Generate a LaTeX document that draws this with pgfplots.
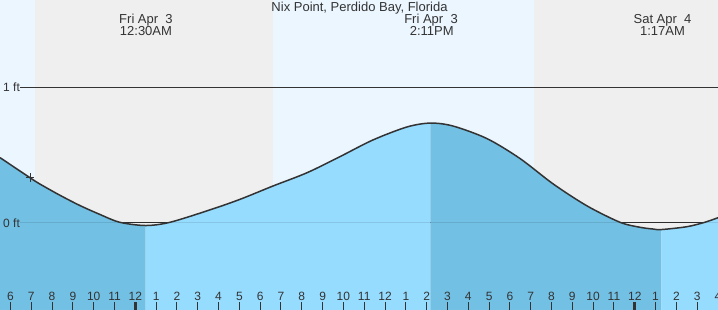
\documentclass[border=0pt]{standalone}
\usepackage{pgfplots}
\pgfplotsset{compat=1.18}
\usepackage{pgfplotstable}
\usepackage{fontspec}
\setmainfont{Liberation Sans}
\definecolor{day}{RGB}{236,246,255}
\definecolor{night}{RGB}{239,239,239}
\definecolor{fall}{RGB}{114,192,228}
\definecolor{rise}{RGB}{150,220,255}
\definecolor{ink}{RGB}{51,51,51}
\pgfplotstableread{
t ft
-6.50 0.479
-5.06 0.330
-4.58 0.283
-3.62 0.200
-2.66 0.124
-1.70 0.058
-0.75 0.000
0.50 -0.024
1.67 0.000
3.59 0.092
5.03 0.170
6.62 0.269
8.25 0.367
9.83 0.486
11.42 0.610
13.05 0.706
14.18 0.735
15.27 0.713
16.90 0.620
18.49 0.472
20.08 0.284
21.71 0.121
23.29 0.000
24.25 -0.037
24.88 -0.050
25.28 -0.054
26.50 -0.033
27.37 0.000
28.00 0.034
}\tide
\begin{document}
\begin{tikzpicture}
\begin{axis}[
  width=718bp, height=310bp, scale only axis,
  xmin=-6.502, xmax=28.0, ymin=-0.650, ymax=1.647,
  axis line style={draw=none},
  axis on top,
  ytick=\empty,
  xtick={-6,...,28},
  xticklabels={6,7,8,9,10,11,12,1,2,3,4,5,6,7,8,9,10,11,12,1,2,3,4,5,6,7,8,9,10,11,12,1,2,3,4},
  tick align=inside,
  xtick pos=left,
  major tick length=8bp,
  tick style={draw=ink, line width=1bp},
  xticklabel style={anchor=base, yshift=10bp, inner sep=0pt, text=ink, font=\fontsize{12bp}{12bp}\selectfont},
  extra x ticks={0,24},
  extra x tick labels={},
  extra x tick style={major tick style={line width=3bp}},
]
% day / night background
\addplot[fill=day, draw=none] coordinates {(-6.6,-0.7) (-6.6,1.7) (28.1,1.7) (28.1,-0.7)} -- cycle;
\addplot[fill=night, draw=none] coordinates {(-4.82,-0.7) (-4.82,1.7) (6.60,1.7) (6.60,-0.7)} -- cycle;
\addplot[fill=night, draw=none] coordinates {(19.16,-0.7) (19.16,1.7) (28.1,1.7) (28.1,-0.7)} -- cycle;
% zero line (below fill)
\addplot[draw=ink, line width=1bp] coordinates {(-5.54,0) (28,0)};
% tide fills
\addplot[fill=fall, draw=none, smooth, restrict x to domain=-7:0.501] table[x=t,y=ft] {\tide} -- (axis cs:0.5,-0.7) -- (axis cs:-6.6,-0.7) -- cycle;
\addplot[fill=rise, draw=none, smooth, restrict x to domain=0.499:14.181] table[x=t,y=ft] {\tide} -- (axis cs:14.18,-0.7) -- (axis cs:0.5,-0.7) -- cycle;
\addplot[fill=fall, draw=none, smooth, restrict x to domain=14.179:25.281] table[x=t,y=ft] {\tide} -- (axis cs:25.28,-0.7) -- (axis cs:14.18,-0.7) -- cycle;
\addplot[fill=rise, draw=none, smooth, restrict x to domain=25.279:29] table[x=t,y=ft] {\tide} -- (axis cs:28.1,-0.7) -- (axis cs:25.28,-0.7) -- cycle;
% zero line over fill
\addplot[draw=black, opacity=0.1, line width=1bp] coordinates {(-5.54,0) (28,0)};
% 1 ft line
\addplot[draw=ink, line width=1bp] coordinates {(-5.54,1) (28,1)};
% tide curve
\addplot[draw=ink, line width=1.5bp, smooth] table[x=t,y=ft] {\tide};
% current time marker
\addplot[only marks, mark=+, mark size=4.3bp, mark options={draw=ink, line width=1bp}] coordinates {(-5.06,0.330)};
% texts
\node[anchor=base, text=ink, font=\fontsize{13bp}{12bp}\selectfont, inner sep=0pt] at (rel axis cs:0.5007,0.9645) {Nix Point, Perdido Bay, Florida};
\node[anchor=base, text=ink, font=\fontsize{13bp}{12bp}\selectfont, inner sep=0pt] at (rel axis cs:0.2033,0.9226) {Fri Apr~~3};
\node[anchor=base, text=ink, font=\fontsize{13bp}{12bp}\selectfont, inner sep=0pt] at (rel axis cs:0.2033,0.8839) {12:30AM};
\node[anchor=base, text=ink, font=\fontsize{13bp}{12bp}\selectfont, inner sep=0pt] at (rel axis cs:0.6003,0.9226) {Fri Apr~~3};
\node[anchor=base, text=ink, font=\fontsize{13bp}{12bp}\selectfont, inner sep=0pt] at (rel axis cs:0.6013,0.8839) {2:11PM};
\node[anchor=base, text=ink, font=\fontsize{13bp}{12bp}\selectfont, inner sep=0pt] at (rel axis cs:0.9227,0.9226) {Sat Apr~~4};
\node[anchor=base, text=ink, font=\fontsize{13bp}{12bp}\selectfont, inner sep=0pt] at (rel axis cs:0.9227,0.8839) {1:17AM};
\node[anchor=base west, text=ink, font=\fontsize{12bp}{12bp}\selectfont, inner sep=0pt] at (rel axis cs:0.0042,0.7048) {1 ft};
\node[anchor=base west, text=ink, font=\fontsize{12bp}{12bp}\selectfont, inner sep=0pt] at (rel axis cs:0.0042,0.2677) {0 ft};
\end{axis}
\pgfresetboundingbox
\useasboundingbox (current axis.south west) rectangle (current axis.north east);
\end{tikzpicture}
\end{document}
